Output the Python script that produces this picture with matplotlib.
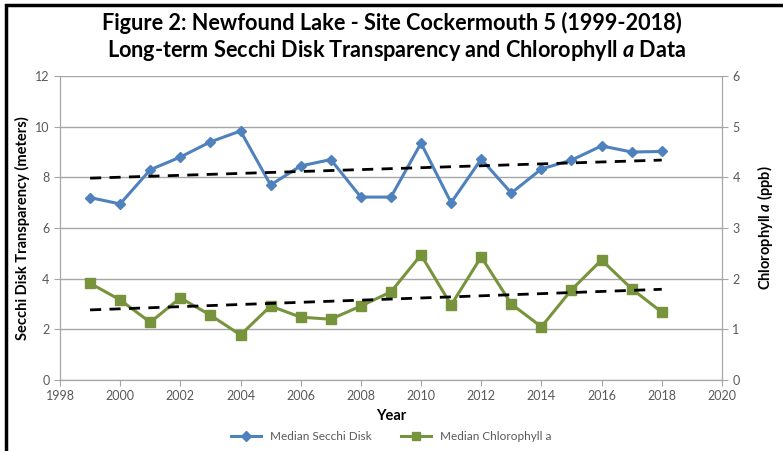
import matplotlib.pyplot as plt
import numpy as np
from matplotlib.patches import Rectangle
from matplotlib.lines import Line2D

plt.rcParams['font.family'] = ['Lato', 'DejaVu Sans']
plt.rcParams['mathtext.fontset'] = 'custom'
plt.rcParams['mathtext.it'] = 'Lato:italic:bold'
plt.rcParams['mathtext.rm'] = 'Lato:bold'

years = list(range(1999, 2019))
secchi = [7.2, 6.95, 8.3, 8.8, 9.4, 9.83, 7.7, 8.45, 8.7, 7.22,
          7.22, 9.35, 7.0, 8.72, 7.38, 8.33, 8.68, 9.24, 9.0, 9.02]
chl = [1.91, 1.58, 1.14, 1.62, 1.28, 0.89, 1.46, 1.24, 1.2, 1.46,
       1.74, 2.47, 1.48, 2.43, 1.5, 1.05, 1.78, 2.37, 1.8, 1.34]

blue = '#4F81BD'
green = '#77933C'
grid_c = '#A6A6A6'
tick_c = '#595959'

fig = plt.figure(figsize=(7.83, 4.51), dpi=100)
ax = fig.add_axes([0.0766, 0.1574, 0.8454, 0.6741])
ax2 = ax.twinx()

x = np.array(years)
# trend lines (least squares)
ps = np.polyfit(x, secchi, 1)
pc = np.polyfit(x, chl, 1)

ax.plot(x, secchi, color=blue, lw=2.2, marker='D', ms=5.5, zorder=3)
ax.plot(x, np.polyval(ps, x), color='black', lw=2, ls=(0, (4, 3)), zorder=4)
ax2.plot(x, chl, color=green, lw=2.2, marker='s', ms=7, zorder=3)
ax2.plot(x, np.polyval(pc, x), color='black', lw=2, ls=(0, (4, 3)), zorder=4)

ax.set_xlim(1998, 2020)
ax.set_xticks(range(1998, 2021, 2))
ax.set_ylim(0, 12)
ax.set_yticks(range(0, 13, 2))
ax2.set_ylim(0, 6)
ax2.set_yticks(range(0, 7))
ax.yaxis.grid(True, color=grid_c, lw=1)
ax.set_axisbelow(True)

for a in (ax, ax2):
    a.spines['top'].set_visible(False)
    for s in ('left', 'right', 'bottom'):
        a.spines[s].set_color(grid_c)
    a.tick_params(colors=grid_c, labelcolor=tick_c, labelsize=9, length=4)

ax.set_xlabel('Year', fontsize=10.5, fontweight='bold', labelpad=5)
ax.set_ylabel('Secchi Disk Transparency (meters)', fontsize=10.5,
              fontweight='bold', labelpad=4)
ax2.set_ylabel('Chlorophyll $a$ (ppb)', fontsize=10.5, fontweight='bold',
               labelpad=11)

fig.text(0.5, 0.948, 'Figure 2: Newfound Lake - Site Cockermouth 5 (1999-2018)',
         ha='center', va='center', fontsize=15.6, fontweight='bold')
fig.text(0.506, 0.889, 'Long-term Secchi Disk Transparency and Chlorophyll $a$ Data',
         ha='center', va='center', fontsize=15.6, fontweight='bold')

handles = [Line2D([], [], color=blue, lw=2.2, marker='D', ms=5),
           Line2D([], [], color=green, lw=2.2, marker='s', ms=6)]
fig.legend(handles, ['Median Secchi Disk', 'Median Chlorophyll a'],
           loc='center', bbox_to_anchor=(0.5, 0.032), ncol=2, frameon=False,
           fontsize=8.5, handlelength=2.5, columnspacing=2.5, labelcolor=tick_c)

fig.patches.append(Rectangle((0.008, -0.5), 1.5, 1.489, transform=fig.transFigure,
                             fill=False, edgecolor='black', lw=2.5))

fig.savefig('out.png', dpi=100)
